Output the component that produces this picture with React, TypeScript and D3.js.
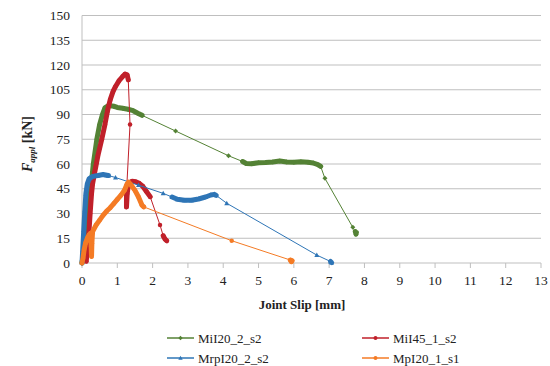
import React from "react";
import * as d3 from "d3";

type P = [number, number];

const xTicks = [0, 1, 2, 3, 4, 5, 6, 7, 8, 9, 10, 11, 12, 13];
const yTicks = [0, 15, 30, 45, 60, 75, 90, 105, 120, 135, 150];

// MiI20_2_s2 (green)
const g1Dense: P[] = [[0, 0], [0.05, 8], [0.1, 18], [0.15, 28], [0.2, 37], [0.25, 45], [0.32, 60], [0.42, 75], [0.5, 84], [0.58, 90], [0.65, 94], [0.75, 95.5], [0.9, 95], [1.0, 94.3], [1.15, 93.8], [1.3, 93.2], [1.45, 92.3], [1.58, 90.8], [1.7, 89.5]];
const g1Sparse: P[] = [[2.65, 80], [4.15, 65]];
const g1Plateau: P[] = [[4.55, 61.5], [4.65, 60.3], [4.8, 60.2], [5.0, 60.7], [5.2, 60.9], [5.4, 61.2], [5.6, 61.8], [5.8, 61.2], [6.0, 61], [6.2, 61.3], [6.4, 61], [6.55, 60.6], [6.68, 59.6], [6.76, 58.5]];
const g1Tail: P[] = [[6.88, 51.3], [7.67, 21.6]];
const g1End: P[] = [[7.74, 19], [7.76, 17.5], [7.77, 18.5]];

// MiI45_1_s2 (red)
const r1Dense: P[] = [[0.12, 1], [0.16, 10], [0.2, 20], [0.23, 30], [0.27, 42], [0.3, 48], [0.36, 55], [0.45, 65], [0.56, 75], [0.65, 84], [0.72, 92], [0.8, 99], [0.88, 104], [0.95, 107], [1.05, 110.5], [1.15, 113], [1.22, 114.5], [1.28, 114], [1.31, 111]];
const r1Drop: P[] = [[1.36, 84]];
const r1Second: P[] = [[1.27, 47], [1.26, 40], [1.26, 34], [1.28, 42], [1.32, 48.5], [1.42, 49.5], [1.52, 49.3], [1.62, 48.3], [1.72, 46.5], [1.82, 43.5], [1.93, 40.2]];
const r1Tail: P[] = [[2.21, 23]];
const r1End: P[] = [[2.3, 16.5], [2.35, 14.5], [2.4, 13.5]];

// MrpI20_2_s2 (blue)
const b1Dense: P[] = [[0, 0], [0.02, 8], [0.05, 20], [0.08, 32], [0.11, 42], [0.15, 48], [0.2, 51], [0.3, 52.5], [0.45, 53], [0.6, 53.6], [0.7, 53.2], [0.75, 53]];
const b1Sparse: P[] = [[0.95, 51.8], [1.6, 47.2], [2.3, 42.2]];
const b1Valley: P[] = [[2.55, 40], [2.7, 38.6], [2.9, 38], [3.1, 38], [3.3, 38.8], [3.5, 40], [3.65, 41.2], [3.75, 41.6], [3.8, 41]];
const b1Tail: P[] = [[4.1, 36.2], [6.65, 4.8]];
const b1End: P[] = [[7.04, 0.9], [7.07, 0.3]];

// MpI20_1_s1 (orange)
const o1Dense: P[] = [[0, 0], [0.03, 3], [0.06, 8], [0.1, 12], [0.15, 15], [0.2, 17], [0.24, 18], [0.26, 10], [0.27, 4], [0.28, 12], [0.3, 19], [0.4, 23], [0.5, 26], [0.6, 29], [0.7, 31.5], [0.8, 33.5], [0.9, 36], [1.0, 38.5], [1.1, 41], [1.2, 44], [1.28, 48], [1.32, 49], [1.4, 47], [1.5, 44], [1.6, 40], [1.7, 35], [1.75, 34]];
const o1Tail: P[] = [[4.24, 13.5]];
const o1End: P[] = [[5.9, 1.8], [5.93, 0.8], [5.95, 1.4]];

const seriesNames = ["MiI20_2_s2", "MiI45_1_s2", "MrpI20_2_s2", "MpI20_1_s1"];

const series = [
  { name: seriesNames[0], color: "#548235", marker: "diamond", dense: [g1Dense, g1Plateau, g1End], all: [...g1Dense, ...g1Sparse, ...g1Plateau, ...g1Tail, ...g1End] },
  { name: seriesNames[1], color: "#C0202A", marker: "circle", dense: [r1Dense, r1Second, r1End], all: [...r1Dense, ...r1Drop, ...r1Second, ...r1Tail, ...r1End] },
  { name: seriesNames[2], color: "#2E75B6", marker: "triangle", dense: [b1Dense, b1Valley, b1End], all: [...b1Dense, ...b1Sparse, ...b1Valley, ...b1Tail, ...b1End] },
  { name: seriesNames[3], color: "#F47B25", marker: "circle", dense: [o1Dense, o1End], all: [...o1Dense, ...o1Tail, ...o1End] },
];

const W = 550, H = 366;
const x = d3.scaleLinear().domain([0, 13]).range([82, 541]);
const y = d3.scaleLinear().domain([0, 150]).range([263, 15.5]);
const line = d3.line<P>().x(d => x(d[0])).y(d => y(d[1]));

function Marker({ type, cx, cy, color, s = 2.5 }: { type: string; cx: number; cy: number; color: string; s?: number }) {
  if (type === "diamond") {
    return <path d={`M${cx},${cy - s}L${cx + s},${cy}L${cx},${cy + s}L${cx - s},${cy}Z`} fill={color} />;
  }
  if (type === "triangle") {
    return <path d={`M${cx},${cy - s}L${cx + s},${cy + s * 0.8}L${cx - s},${cy + s * 0.8}Z`} fill={color} />;
  }
  return <circle cx={cx} cy={cy} r={s * 0.9} fill={color} />;
}

export default function App() {
  const font = "'Liberation Serif', 'Times New Roman', Times, serif";
  const ts = { fontFamily: font };
  const legendPos = [
    [167, 338], [362, 338], [167, 358], [362, 358],
  ];
  return (
    <svg width={W} height={H} style={{ position: "absolute", left: 0, top: 0, background: "#fff", fontFamily: font }}>
      {yTicks.map(t => (
        <g key={"y" + t}>
          <line x1={82} x2={541} y1={y(t)} y2={y(t)} stroke="#bfbfbf" strokeWidth={1} />
          <text x={70} y={y(t)} dy="0.35em" textAnchor="end" fontSize={13.5} fill="#222" style={ts}>{t}</text>
        </g>
      ))}
      <line x1={82} x2={82} y1={y(150)} y2={y(0)} stroke="#bfbfbf" />
      {xTicks.map(t => (
        <g key={"x" + t}>
          <line x1={x(t)} x2={x(t)} y1={y(0)} y2={y(0) + 5} stroke="#bfbfbf" />
          <text x={x(t)} y={285} textAnchor="middle" fontSize={13.5} fill="#222" style={ts}>{t}</text>
        </g>
      ))}
      <text x={302} y={309} textAnchor="middle" fontSize={13} fontWeight="bold" fill="#222" style={ts}>Joint Slip [mm]</text>
      <text transform="translate(32,144) rotate(-90)" textAnchor="middle" fontSize={14} fontWeight="bold" fill="#222" style={ts}>
        <tspan fontStyle="italic">F</tspan>
        <tspan fontStyle="italic" fontSize={9} dy={3}>appl</tspan>
        <tspan dy={-3}> [kN]</tspan>
      </text>
      {series.map(s => (
        <g key={s.name}>
          <path d={line(s.all) || ""} fill="none" stroke={s.color} strokeWidth={1} />
          {s.dense.map((seg, i) => (
            <path key={i} d={line(seg) || ""} fill="none" stroke={s.color} strokeWidth={5} strokeLinejoin="round" strokeLinecap="round" />
          ))}
          {s.all.map((p, i) => (
            <Marker key={i} type={s.marker} cx={x(p[0])} cy={y(p[1])} color={s.color} />
          ))}
        </g>
      ))}
      {series.map((s, i) => (
        <g key={"lg" + i}>
          <line x1={legendPos[i][0]} x2={legendPos[i][0] + 27} y1={legendPos[i][1]} y2={legendPos[i][1]} stroke={s.color} strokeOpacity={0.75} strokeWidth={2} />
          <Marker type={s.marker} cx={legendPos[i][0] + 13.5} cy={legendPos[i][1]} color={s.color} s={2.2} />
          <text x={legendPos[i][0] + 31} y={legendPos[i][1]} dy="0.35em" fontSize={13} fill="#222" style={ts}>{s.name}</text>
        </g>
      ))}
    </svg>
  );
}
